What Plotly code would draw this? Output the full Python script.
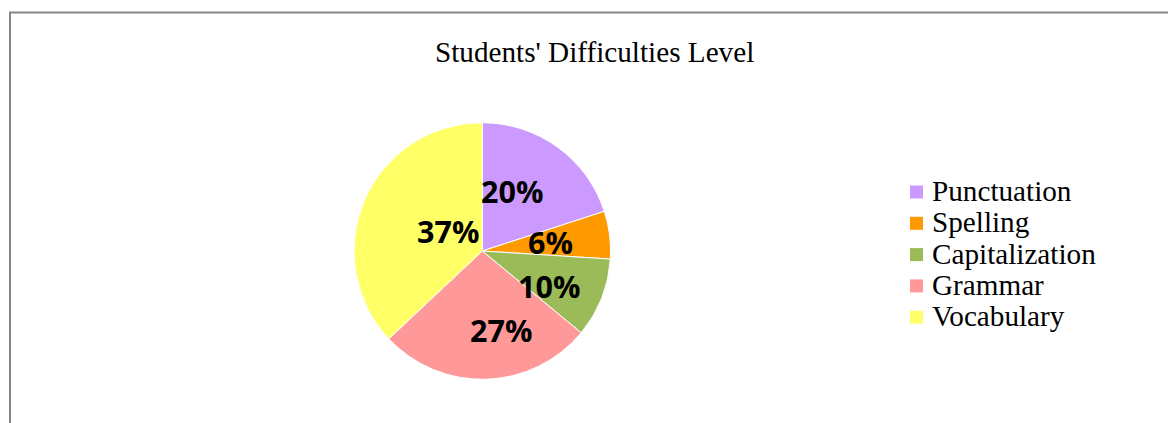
import math
import plotly.graph_objects as go

W, H = 1168, 423

categories = ["Punctuation", "Spelling", "Capitalization", "Grammar", "Vocabulary"]
values = [20, 6, 10, 27, 37]
colors = ["#CC99FF", "#FF9900", "#9BBB59", "#FF9999", "#FFFF66"]
title_text = "Students' Difficulties Level"

# label placement tuning (fraction of radius, angular nudge in degrees)
label_r = [0.52, 0.535, 0.59, 0.63, 0.31]
label_dang = [-9.6, 0.0, 6.0, -11.5, 6.0]

cx, cy, R = 482.3, 251.0, 128.3  # pie centre / radius in px

def px(x):
    return x / W

def py(y):
    return 1 - y / H

fig = go.Figure()
fig.add_trace(go.Pie(
    labels=categories,
    values=values,
    marker=dict(colors=colors, line=dict(color="white", width=1)),
    sort=False,
    direction="clockwise",
    rotation=0,
    textinfo="none",
    hoverinfo="label+percent",
    showlegend=False,
    domain=dict(x=[px(cx - R), px(cx + R)], y=[py(cy + R), py(cy - R)]),
))

annotations = []
total = sum(values)
cum = 0
for i, v in enumerate(values):
    mid = (cum + v / 2) / total * 360 + label_dang[i]
    cum += v
    r = label_r[i] * R
    x = cx + r * math.sin(math.radians(mid))
    y = cy - r * math.cos(math.radians(mid))
    annotations.append(dict(
        x=px(x), y=py(y), xref="paper", yref="paper",
        text=f"{round(v / total * 100)}%", showarrow=False,
        font=dict(family="Open Sans", size=30.5, color="black", weight="bold"),
        xanchor="center", yanchor="middle",
    ))

# manual legend
shapes = []
leg_x0, leg_y0, leg_dy, sq = 910, 192, 31.3, 13
for i, (c, col) in enumerate(zip(categories, colors)):
    yy = leg_y0 + i * leg_dy
    shapes.append(dict(type="rect", xref="paper", yref="paper",
                       x0=px(leg_x0), x1=px(leg_x0 + sq),
                       y0=py(yy + sq / 2), y1=py(yy - sq / 2),
                       fillcolor=col, line=dict(width=0)))
    annotations.append(dict(
        x=px(929.5), y=py(yy - 1), xref="paper", yref="paper",
        text=c, showarrow=False, xanchor="left", yanchor="middle",
        font=dict(family="Liberation Serif", size=29.2, color="black"),
    ))

# title
annotations.append(dict(
    x=px(594.5), y=py(52), xref="paper", yref="paper", text=title_text,
    showarrow=False, xanchor="center", yanchor="middle",
    font=dict(family="Liberation Serif", size=29.2, color="black"),
))

# chart border
shapes.append(dict(type="rect", xref="paper", yref="paper",
                   x0=px(10), x1=1.05, y0=-0.05, y1=py(12.5),
                   line=dict(color="#868686", width=2), fillcolor="rgba(0,0,0,0)"))

fig.update_layout(
    width=W, height=H,
    margin=dict(l=0, r=0, t=0, b=0),
    paper_bgcolor="white", plot_bgcolor="white",
    annotations=annotations, shapes=shapes,
)

fig.write_html("out.html")
